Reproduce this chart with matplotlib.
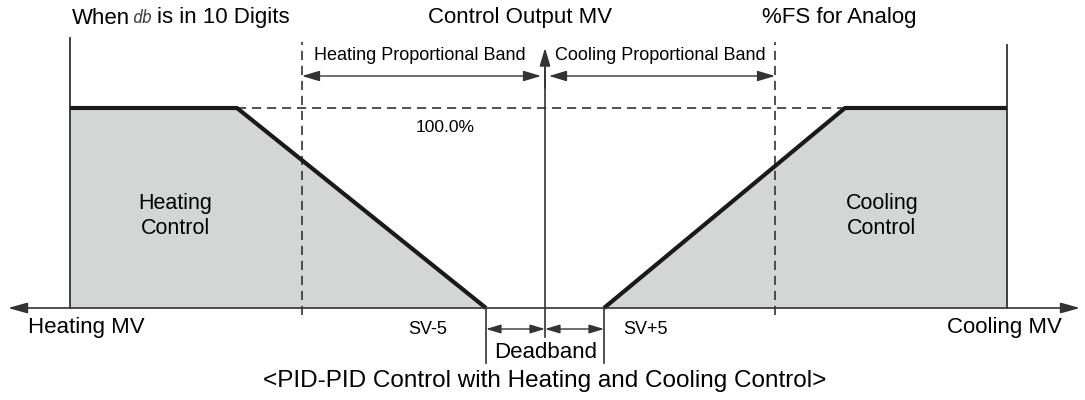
import matplotlib
matplotlib.use("Agg")
import matplotlib.pyplot as plt
from matplotlib.patches import FancyArrowPatch

plt.rcParams["font.family"] = ["Liberation Sans", "DejaVu Sans"]

# Schematic x positions (SV at 0) and control output MV in %
sv = 0
deadband_edges = [-59, 59]          # SV-5 / SV+5
band_edges = [-243, 230]            # end of heating / cooling proportional band
output_limits = [-475, 462]         # full heating / full cooling output
heat_x = [-475, -308, -59]
heat_mv = [100, 100, 0]
cool_x = [59, 300, 462]
cool_mv = [0, 100, 100]
mv_full = 100

LINE = "#333333"
FILL = "#d4d5d5"

fig = plt.figure(figsize=(10.85, 4.0), dpi=100)
ax = fig.add_axes([0, 0, 1, 1])
ax.set_xlim(-545, 540)
ax.set_ylim(-46, 154)
ax.axis("off")


def arrow(x0, y0, x1, y1, style="-|>", lw=1.2, color=LINE, scale=12, hw=0.27):
    ax.add_patch(FancyArrowPatch((x0, y0), (x1, y1),
                                 arrowstyle=f"{style},head_length=0.9,head_width={hw}",
                                 mutation_scale=scale, lw=lw, color=color,
                                 shrinkA=0, shrinkB=0, zorder=5))


# shaded output regions
ax.fill_between(heat_x, heat_mv, 0, color=FILL, lw=0, zorder=1)
ax.fill_between(cool_x, cool_mv, 0, color=FILL, lw=0, zorder=1)

# output limit lines
ax.plot([output_limits[0]] * 2, [0, 135], color=LINE, lw=1.3, zorder=3)
ax.plot([output_limits[1]] * 2, [0, 131.5], color=LINE, lw=1.3, zorder=3)

# proportional band boundaries
for bx in band_edges:
    ax.plot([bx, bx], [-3.5, 133], color=LINE, lw=1.2, ls=(0, (5.5, 3.5)), zorder=3)

# 100% reference line
ax.plot([heat_x[1], cool_x[1]], [mv_full, mv_full], color=LINE, lw=1.2,
        ls=(0, (5.5, 3.5)), zorder=2)

# control output curves
ax.plot(heat_x, heat_mv, color="#1a1a1a", lw=3.0, zorder=4, solid_capstyle="butt")
ax.plot(cool_x, cool_mv, color="#1a1a1a", lw=3.0, zorder=4, solid_capstyle="butt")

# deadband limits
for dx in deadband_edges:
    ax.plot([dx, dx], [0, -27.5], color=LINE, lw=1.2, zorder=3)

# horizontal MV axis
arrow(-537, 0, 535, 0, style="<|-|>", scale=13, hw=0.25)
# central control output axis
ax.plot([sv, sv], [-14.5, 120], color=LINE, lw=1.2, zorder=3)
arrow(sv, 110, sv, 130, scale=12, hw=0.27)

# proportional band arrows
y_band = 116
arrow(band_edges[0], y_band, sv - 4, y_band, style="<|-|>", lw=1.0, scale=12)
arrow(sv + 4, y_band, band_edges[1], y_band, style="<|-|>", lw=1.0, scale=12)

# deadband arrows
y_db = -10.5
arrow(deadband_edges[0], y_db, sv, y_db, style="<|-|>", lw=1.0, scale=10)
arrow(sv, y_db, deadband_edges[1], y_db, style="<|-|>", lw=1.0, scale=10)

# texts
ax.text(-473, 145, "When", fontsize=16, va="center", ha="left")
ax.text(-413, 145, "db", fontsize=12, va="center", ha="left", color="#444444",
        fontstyle="italic", family=["DejaVu Sans Mono"])
ax.text(-388, 145, "is in 10 Digits", fontsize=16, va="center", ha="left")
ax.text(-25, 145, "Control Output MV", fontsize=16, va="center", ha="center")
ax.text(294, 145, "%FS for Analog", fontsize=16, va="center", ha="center")
ax.text(-125, 126.5, "Heating Proportional Band", fontsize=13, va="center", ha="center")
ax.text(115, 126.5, "Cooling Proportional Band", fontsize=13, va="center", ha="center")
ax.text(-100, 90.5, "100.0%", fontsize=12.5, va="center", ha="center")
ax.text(-370, 46, "Heating\nControl", fontsize=15.5, va="center", ha="center",
        linespacing=1.25)
ax.text(337, 46, "Cooling\nControl", fontsize=15.5, va="center", ha="center",
        linespacing=1.25)
ax.text(-517, -9.5, "Heating MV", fontsize=16, va="center", ha="left")
ax.text(517, -9.5, "Cooling MV", fontsize=16, va="center", ha="right")
ax.text(-117, -11, "SV-5", fontsize=13, va="center", ha="center")
ax.text(100, -11, "SV+5", fontsize=13, va="center", ha="center")
ax.text(1, -22.5, "Deadband", fontsize=16, va="center", ha="center")
ax.text(0, -36.5, "<PID-PID Control with Heating and Cooling Control>", fontsize=17.5,
        va="center", ha="center")

fig.savefig("out.png", dpi=100)
